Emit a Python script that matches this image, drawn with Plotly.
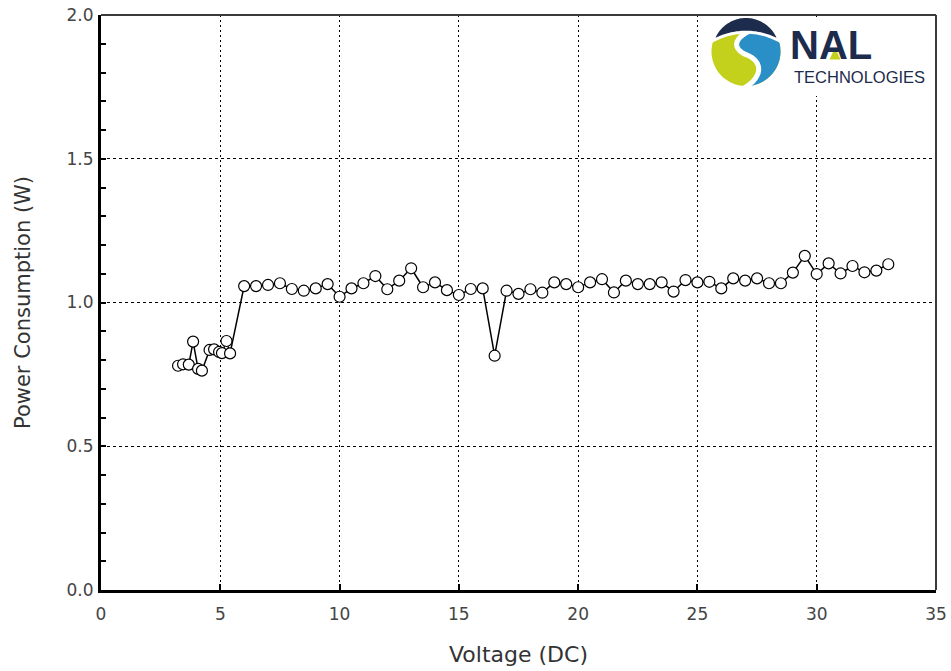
import numpy as np
import plotly.graph_objects as go

# ---------------- data ----------------
voltage_low = [3.23, 3.44, 3.68, 3.86, 4.07, 4.23, 4.55, 4.74, 4.95, 5.07, 5.26, 5.41]
power_low = [0.780, 0.785, 0.784, 0.864, 0.769, 0.763, 0.835, 0.837, 0.828, 0.824, 0.866, 0.823]

voltage_high = [6.0, 6.5, 7.0, 7.5, 8.0, 8.5, 9.0, 9.5, 10.0, 10.5, 11.0, 11.5, 12.0, 12.5,
                13.0, 13.5, 14.0, 14.5, 15.0, 15.5, 16.0, 16.5, 17.0, 17.5, 18.0, 18.5,
                19.0, 19.5, 20.0, 20.5, 21.0, 21.5, 22.0, 22.5, 23.0, 23.5, 24.0, 24.5,
                25.0, 25.5, 26.0, 26.5, 27.0, 27.5, 28.0, 28.5, 29.0, 29.5, 30.0, 30.5,
                31.0, 31.5, 32.0, 32.5, 33.0]
power_high = [1.057, 1.057, 1.061, 1.067, 1.047, 1.041, 1.049, 1.064, 1.020, 1.049,
              1.067, 1.092, 1.046, 1.076, 1.119, 1.053, 1.070, 1.043, 1.026, 1.047,
              1.049, 0.815, 1.041, 1.030, 1.046, 1.034, 1.070, 1.064, 1.053, 1.070,
              1.081, 1.035, 1.076, 1.064, 1.064, 1.070, 1.038, 1.078, 1.070, 1.072,
              1.049, 1.084, 1.076, 1.084, 1.067, 1.067, 1.104, 1.162, 1.099, 1.136,
              1.101, 1.127, 1.105, 1.111, 1.133]

voltage = voltage_low + voltage_high
power = power_low + power_high

x_ticks = [0, 5, 10, 15, 20, 25, 30, 35]
y_ticks = [0.0, 0.5, 1.0, 1.5, 2.0]

x_title = "Voltage (DC)"
y_title = "Power Consumption (W)"
logo_word = "NAL"
logo_sub = "TECHNOLOGIES"

# ---------------- layout geometry (screen pixels) ----------------
W, H = 951, 671
L, R, T, B = 101, 936, 15, 590
PW, PH = R - L, B - T

FONT = "DejaVu Sans"
NAVY = "#1d2b4c"
LIME = "#c3d11d"
BLUE = "#2b8fc7"


def px(x):
    return (x - L) / PW


def py(y):
    return (B - y) / PH


def path_from(points, close=True):
    s = "M " + " L ".join(f"{px(a):.5f},{py(b):.5f}" for a, b in points)
    return s + (" Z" if close else "")


def bezier(p0, p1, p2, p3, n=30):
    t = np.linspace(0, 1, n)[:, None]
    p0, p1, p2, p3 = map(np.array, (p0, p1, p2, p3))
    pts = ((1 - t) ** 3) * p0 + 3 * ((1 - t) ** 2) * t * p1 + 3 * (1 - t) * t ** 2 * p2 + t ** 3 * p3
    return [tuple(p) for p in pts]


def arc(cx, cy, r, a0, a1, n=60):
    ang = np.radians(np.linspace(a0, a1, n))
    return [(cx + r * np.cos(a), cy - r * np.sin(a)) for a in ang]


fig = go.Figure()

fig.add_trace(go.Scatter(
    x=voltage, y=power, mode="lines+markers",
    line=dict(color="black", width=1.5),
    marker=dict(symbol="circle", size=11, color="white",
                line=dict(color="black", width=1.2)),
    showlegend=False, hoverinfo="x+y",
))

shapes = []
# logo white background (covers grid)
shapes.append(dict(type="rect", xref="paper", yref="paper",
                   x0=px(703), x1=px(934), y0=py(96), y1=py(17),
                   fillcolor="white", line=dict(width=0), layer="above"))

# logo emblem
cx, cy, r = 746, 51.5, 34.5
circle = arc(cx, cy, r, 0, 360, 120)
shapes.append(dict(type="path", xref="paper", yref="paper", path=path_from(circle),
                   fillcolor=LIME, line=dict(width=0), layer="above"))
s1 = bezier((752, 30), (733, 38), (732, 49), (747, 55))
s2 = bezier((747, 55), (764, 62), (762, 78), (744, 88))
scurve = s1 + s2[1:]
blue = scurve + arc(cx, cy, r, -93, 80, 80)
shapes.append(dict(type="path", xref="paper", yref="paper", path=path_from(blue),
                   fillcolor=BLUE, line=dict(width=0), layer="above"))
shapes.append(dict(type="path", xref="paper", yref="paper", path=path_from(scurve, close=False),
                   fillcolor="rgba(0,0,0,0)", line=dict(color="white", width=5), layer="above"))
outer = arc(cx, cy, r + 0.5, 162, 18, 60)
x_a, y_a = outer[-1]
x_b, y_b = outer[0]
inner = []
for t in np.linspace(0, 1, 40):
    xx = x_a + (x_b - x_a) * t
    yy = y_a + (y_b - y_a) * t - 4 * 8.5 * t * (1 - t)
    inner.append((xx, yy))
shapes.append(dict(type="path", xref="paper", yref="paper", path=path_from(outer + inner),
                   fillcolor=NAVY, line=dict(color="white", width=3), layer="above"))

# green triangle in the A
shapes.append(dict(type="path", xref="paper", yref="paper",
                   path=path_from([(835, 47.5), (829.5, 59.5), (840.5, 59.5)]),
                   fillcolor=LIME, line=dict(width=0), layer="above"))

# frame: top and right thin borders
shapes.append(dict(type="line", xref="paper", yref="paper", x0=0, x1=1, y0=1, y1=1,
                   line=dict(color="#3a3a3a", width=2), layer="above"))
shapes.append(dict(type="line", xref="paper", yref="paper", x0=1, x1=1, y0=0, y1=1,
                   line=dict(color="#3a3a3a", width=2), layer="above"))

annotations = [
    dict(text=f"<b>{logo_word}</b>", xref="paper", yref="paper", x=px(789), y=py(68),
         xanchor="left", yanchor="bottom", showarrow=False, borderpad=0,
         font=dict(family="Liberation Sans", size=40, color=NAVY)),
    dict(text=logo_sub, xref="paper", yref="paper", x=px(793), y=py(67),
         xanchor="left", yanchor="top", showarrow=False, borderpad=0,
         font=dict(family="Liberation Sans", size=16.5, color=NAVY)),
]

fig.update_layout(
    width=W, height=H,
    margin=dict(l=L, r=W - R, t=T, b=H - B, pad=0, autoexpand=False),
    paper_bgcolor="white", plot_bgcolor="white",
    shapes=shapes, annotations=annotations,
    font=dict(family=FONT, color="#444444"),
)

fig.update_xaxes(
    range=[0, 35], tickvals=x_ticks, ticktext=[str(v) for v in x_ticks],
    showgrid=True, gridcolor="black", gridwidth=1, griddash="2px,3px",
    zeroline=False, showline=True, linecolor="black", linewidth=3,
    ticks="inside", ticklen=6, tickwidth=2, tickcolor="black",
    tickfont=dict(family=FONT, size=17, color="#444444"), ticklabelstandoff=7,
    title=dict(text=x_title, font=dict(family=FONT, size=22, color="#333333"), standoff=24),
    automargin=False, fixedrange=True,
)
fig.update_yaxes(
    range=[0, 2.0], tickvals=y_ticks, ticktext=[f"{v:.1f}" for v in y_ticks],
    showgrid=True, gridcolor="black", gridwidth=1, griddash="3px,3px",
    zeroline=False, showline=True, linecolor="black", linewidth=3,
    ticks="inside", ticklen=5, tickwidth=2, tickcolor="black",
    minor=dict(dtick=0.1, ticks="inside", ticklen=5, tickwidth=2, tickcolor="black", showgrid=False),
    tickfont=dict(family=FONT, size=17, color="#444444"), ticklabelstandoff=1,
    title=dict(text=y_title, font=dict(family=FONT, size=21, color="#333333"), standoff=31),
    automargin=False, fixedrange=True,
)

fig.write_html(
    "out.html",
    config={"displayModeBar": False},
    post_script="document.body.style.margin='0';document.body.style.overflow='hidden';",
)
